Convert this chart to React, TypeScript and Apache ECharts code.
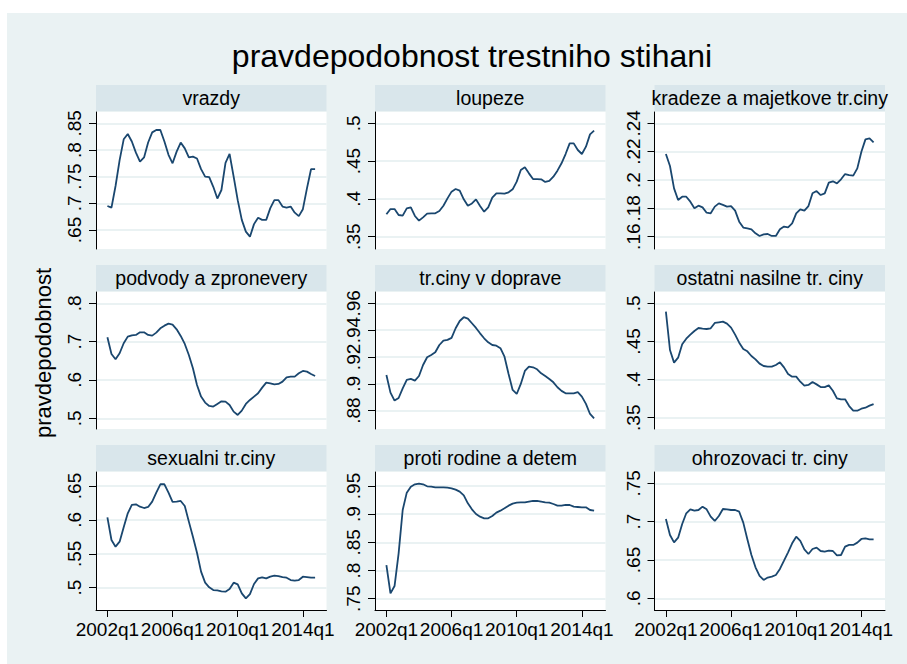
import React, { useEffect, useRef } from "react";
import * as echarts from "echarts";

// ---------- data ----------
const quarters: string[] = [];
for (let y = 2002; y <= 2014; y++) for (let q = 1; q <= 4; q++) quarters.push(`${y}q${q}`);

const xTickLabels = ["2002q1", "2006q1", "2010q1", "2014q1"];

const panelTitles = [
  "vrazdy",
  "loupeze",
  "kradeze a majetkove tr.ciny",
  "podvody a zpronevery",
  "tr.ciny v doprave",
  "ostatni nasilne tr. ciny",
  "sexualni tr.ciny",
  "proti rodine a detem",
  "ohrozovaci tr. ciny",
];

const vrazdy = [
  0.695, 0.692, 0.7325, 0.781, 0.82, 0.83, 0.816, 0.795, 0.778, 0.786, 0.814, 0.833, 0.8375,
  0.8375, 0.816, 0.791, 0.775, 0.797, 0.814, 0.803, 0.786, 0.7875, 0.784, 0.764, 0.75, 0.749,
  0.731, 0.709, 0.725, 0.776, 0.7925, 0.75, 0.706, 0.669, 0.647, 0.6375, 0.661, 0.673, 0.669,
  0.669, 0.691, 0.706, 0.706, 0.694, 0.692, 0.694, 0.6825, 0.676, 0.689, 0.728, 0.764, 0.764,
];
const loupeze = [
  0.3796, 0.3866, 0.3866, 0.3787, 0.3778, 0.3875, 0.3888, 0.3774, 0.3712, 0.3756, 0.3805, 0.3809,
  0.3809, 0.384, 0.391, 0.4007, 0.4096, 0.4131, 0.4109, 0.3994, 0.391, 0.394, 0.3994, 0.3906,
  0.3831, 0.3888, 0.4016, 0.4074, 0.4074, 0.4069, 0.4087, 0.4127, 0.4228, 0.4382, 0.4418, 0.4338,
  0.4263, 0.4263, 0.4259, 0.4224, 0.4237, 0.4294, 0.4374, 0.4471, 0.4594, 0.4735, 0.4735, 0.4647,
  0.4594, 0.4691, 0.4854, 0.4903,
];
const kradeze = [
  0.2184, 0.2099, 0.1941, 0.1859, 0.1882, 0.1882, 0.1847, 0.18, 0.1819, 0.1807, 0.1769, 0.1765,
  0.1812, 0.1835, 0.1824, 0.1812, 0.1816, 0.1784, 0.1706, 0.1664, 0.1659, 0.1652, 0.1624, 0.1605,
  0.1616, 0.1619, 0.1605, 0.1605, 0.1652, 0.1671, 0.1666, 0.1694, 0.1765, 0.1793, 0.1784, 0.1816,
  0.1906, 0.1922, 0.1894, 0.1906, 0.1981, 0.1991, 0.1976, 0.2005, 0.2042, 0.2035, 0.2031, 0.2082,
  0.22, 0.2287, 0.2294, 0.2266,
];
const podvody = [
  0.7113, 0.6678, 0.6539, 0.6696, 0.6957, 0.713, 0.7165, 0.7174, 0.7243, 0.7243, 0.7174, 0.7157,
  0.7235, 0.7348, 0.7417, 0.747, 0.7443, 0.7322, 0.7148, 0.6939, 0.6652, 0.6304, 0.587, 0.5565,
  0.5409, 0.5322, 0.5304, 0.5374, 0.5443, 0.5435, 0.5348, 0.5174, 0.5087, 0.52, 0.5374, 0.5478,
  0.5565, 0.5652, 0.58, 0.593, 0.5913, 0.5887, 0.5896, 0.5957, 0.607, 0.6087, 0.6087, 0.6174,
  0.6235, 0.6217, 0.6157, 0.6104,
];
const doprave = [
  0.9066, 0.8934, 0.8875, 0.8894, 0.8966, 0.9029, 0.9036, 0.9024, 0.9058, 0.914, 0.9198, 0.9215,
  0.9235, 0.9289, 0.9322, 0.9327, 0.9342, 0.9414, 0.9468, 0.9496, 0.9486, 0.9451, 0.9416, 0.9376,
  0.9339, 0.9309, 0.9289, 0.9284, 0.9265, 0.9202, 0.9073, 0.8954, 0.8924, 0.8999, 0.9096, 0.9128,
  0.9123, 0.9108, 0.9078, 0.9058, 0.9036, 0.9011, 0.8974, 0.8947, 0.8929, 0.8929, 0.8929, 0.8937,
  0.8904, 0.885, 0.8775, 0.8743,
];
const ostatni = [
  0.4891, 0.4388, 0.4222, 0.4287, 0.4462, 0.4536, 0.4589, 0.4637, 0.4676, 0.4668, 0.4663, 0.4672,
  0.4742, 0.4751, 0.476, 0.4733, 0.4681, 0.4589, 0.4484, 0.4401, 0.437, 0.4309, 0.4265, 0.4209,
  0.4178, 0.4169, 0.4169, 0.4191, 0.4226, 0.416, 0.4073, 0.4038, 0.4038, 0.3972, 0.392, 0.3929,
  0.3968, 0.3937, 0.3902, 0.3902, 0.3924, 0.3854, 0.3754, 0.3741, 0.3741, 0.3653, 0.3592, 0.3592,
  0.3618, 0.3631, 0.3658, 0.3679,
];
const sexualni = [
  0.6038, 0.5703, 0.5605, 0.5679, 0.589, 0.6097, 0.622, 0.623, 0.6195, 0.6175, 0.619, 0.6269,
  0.6402, 0.6525, 0.6525, 0.6402, 0.6264, 0.6269, 0.6279, 0.6205, 0.5974, 0.5752, 0.5516, 0.5236,
  0.5074, 0.5005, 0.4965, 0.496, 0.4946, 0.4941, 0.498, 0.5074, 0.5049, 0.4916, 0.4842, 0.4906,
  0.5054, 0.5137, 0.5152, 0.5137, 0.5162, 0.5177, 0.5172, 0.5157, 0.5147, 0.5113, 0.5103, 0.5113,
  0.5162, 0.5157, 0.5147, 0.5147,
];
const rodine = [
  0.8098, 0.7595, 0.7725, 0.8305, 0.9074, 0.9382, 0.9488, 0.953, 0.9541, 0.953, 0.9494, 0.9488,
  0.9476, 0.9476, 0.9476, 0.947, 0.9459, 0.9435, 0.94, 0.9334, 0.9192, 0.9086, 0.9003, 0.8956,
  0.8926, 0.8926, 0.8967, 0.9027, 0.9062, 0.9104, 0.9151, 0.9186, 0.9204, 0.921, 0.921, 0.9222,
  0.9234, 0.9234, 0.9222, 0.921, 0.9204, 0.918, 0.9151, 0.9151, 0.9163, 0.9163, 0.9133, 0.9127,
  0.9121, 0.9121, 0.9074, 0.9062,
];
const ohrozovaci = [
  0.7035, 0.6826, 0.673, 0.6791, 0.697, 0.7109, 0.7161, 0.7143, 0.7152, 0.7196, 0.7161, 0.7065,
  0.7009, 0.7074, 0.7165, 0.7161, 0.7152, 0.7152, 0.713, 0.6987, 0.677, 0.6565, 0.6404, 0.6291,
  0.6239, 0.627, 0.6283, 0.6304, 0.6383, 0.6491, 0.66, 0.6717, 0.6804, 0.6748, 0.6639, 0.6578,
  0.6643, 0.6661, 0.6617, 0.6609, 0.6622, 0.6617, 0.6561, 0.6565, 0.6674, 0.6696, 0.6696, 0.6726,
  0.6774, 0.6783, 0.677, 0.677,
];

const seriesValues = [vrazdy, loupeze, kradeze, podvody, doprave, ostatni, sexualni, rodine, ohrozovaci];

const yTickValues = [
  [0.65, 0.7, 0.75, 0.8, 0.85],
  [0.35, 0.4, 0.45, 0.5],
  [0.16, 0.18, 0.2, 0.22, 0.24],
  [0.5, 0.6, 0.7, 0.8],
  [0.88, 0.9, 0.92, 0.94, 0.96],
  [0.35, 0.4, 0.45, 0.5],
  [0.5, 0.55, 0.6, 0.65],
  [0.75, 0.8, 0.85, 0.9, 0.95],
  [0.6, 0.65, 0.7, 0.75],
];
const yMin = [0.6144, 0.3337, 0.1513, 0.472, 0.8663, 0.3352, 0.4671, 0.73, 0.5847];
const yMax = [0.8712, 0.515, 0.248, 0.8295, 0.9684, 0.5148, 0.6706, 0.9748, 0.7648];

const mainTitle = "pravdepodobnost trestniho stihani";
const yAxisTitle = "pravdepodobnost";

// ---------- layout ----------
const OX = 7;
const OY = 13;
const W = 907 - OX;
const H = 664 - OY;
const colLeft = [96, 375, 654.5];
const colWidth = 230.5;
const rowTop = [112, 292, 472];
const rowHeight = [137, 137, 138];
const FONT = "'Liberation Sans', Arial, Helvetica, sans-serif";
const LINE = "#1A476F";
const BG = "#EAF2F3";
const STRIP = "#D9E6EB";

const xMin = -2.8;
const xMax = 53.8;
const xTickIdx = xTickLabels.map((l) => quarters.indexOf(l));

const fmtY = (v: number) => {
  const s = String(Math.round(v * 1000) / 1000);
  return s.replace(/^0\./, ".");
};

export default function App() {
  const ref = useRef<HTMLDivElement>(null);
  useEffect(() => {
    if (!ref.current) return;
    const chart = echarts.init(ref.current, undefined, { renderer: "svg" });

    const grids: any[] = [];
    const xAxes: any[] = [];
    const yAxes: any[] = [];
    const series: any[] = [];
    const graphics: any[] = [];

    for (let p = 0; p < 9; p++) {
      const r = Math.floor(p / 3);
      const c = p % 3;
      const left = colLeft[c] - OX;
      const top = rowTop[r] - OY;
      grids.push({
        left,
        top,
        width: colWidth,
        height: rowHeight[r],
        show: true,
        backgroundColor: "#ffffff",
        borderWidth: 0,
      });
      const bottomRow = r === 2;
      xAxes.push({
        type: "value",
        gridIndex: p,
        min: xMin,
        max: xMax,
        show: bottomRow,
        axisLine: { show: true, onZero: false, lineStyle: { color: "#000", width: 1 } },
        axisTick: {
          show: true,
          customValues: xTickIdx,
          length: 7,
          lineStyle: { color: "#000", width: 1 },
        },
        axisLabel: {
          show: true,
          customValues: xTickIdx,
          formatter: (v: number) => quarters[Math.round(v)],
          fontSize: 19,
          fontFamily: FONT,
          color: "#000",
          margin: 10,
        },
        splitLine: { show: false },
      });
      yAxes.push({
        type: "value",
        gridIndex: p,
        min: yMin[p],
        max: yMax[p],
        axisLine: { show: true, onZero: false, lineStyle: { color: "#000", width: 1 } },
        axisTick: {
          show: true,
          customValues: yTickValues[p],
          length: 7,
          lineStyle: { color: "#000", width: 1 },
        },
        axisLabel: {
          show: true,
          customValues: yTickValues[p],
          formatter: (v: number) => fmtY(v),
          rotate: 90,
          fontSize: 19,
          fontFamily: FONT,
          color: "#000",
          margin: 12,
        },
        splitLine: { show: true, lineStyle: { color: BG, width: 2 } },
      });
      series.push({
        type: "line",
        xAxisIndex: p,
        yAxisIndex: p,
        data: seriesValues[p].map((v, i) => [i, v]),
        showSymbol: false,
        symbol: "none",
        lineStyle: { color: LINE, width: 1.8 },
        silent: true,
      });
      graphics.push({
        type: "rect",
        shape: { x: left, y: top - 27, width: colWidth, height: 26 },
        style: { fill: STRIP },
      });
      graphics.push({
        type: "text",
        x: left + colWidth / 2,
        y: top - 14,
        style: {
          text: panelTitles[p],
          fill: "#000",
          font: `19.5px ${FONT}`,
          textAlign: "center",
          textVerticalAlign: "middle",
        },
      });
    }

    graphics.push({
      type: "text",
      x: 472 - OX,
      y: 56 - OY,
      style: {
        text: mainTitle,
        fill: "#000",
        font: `32px ${FONT}`,
        textAlign: "center",
        textVerticalAlign: "middle",
      },
    });
    graphics.push({
      type: "text",
      x: 43 - OX,
      y: 353 - OY,
      rotation: Math.PI / 2,
      style: {
        text: yAxisTitle,
        fill: "#000",
        font: `22px ${FONT}`,
        textAlign: "center",
        textVerticalAlign: "middle",
      },
    });

    chart.setOption({
      animation: false,
      backgroundColor: BG,
      grid: grids,
      xAxis: xAxes,
      yAxis: yAxes,
      series,
      graphic: graphics,
    });
    return () => chart.dispose();
  }, []);

  return (
    <div
      ref={ref}
      style={{ position: "absolute", left: OX, top: OY, width: W, height: H }}
    />
  );
}
